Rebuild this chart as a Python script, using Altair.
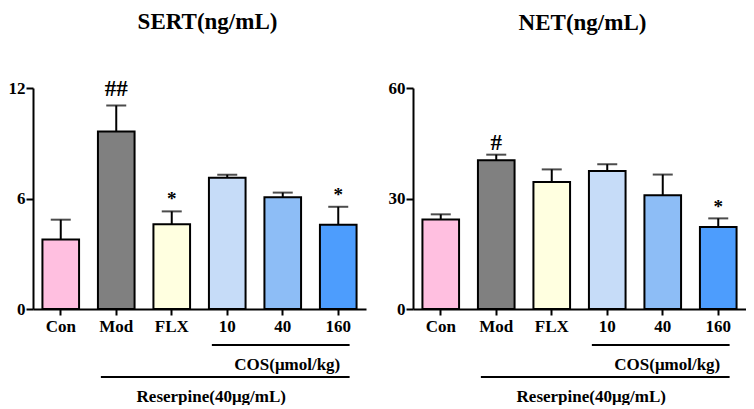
import altair as alt
import pandas as pd

cats = ["Con", "Mod", "FLX", "10", "40", "160"]
colors = ["#FFBFE0", "#808080", "#FFFFE0", "#C6DCF8", "#8DBDF6", "#4D9DFD"]

sert_mean = [3.78, 9.64, 4.60, 7.13, 6.07, 4.57]
sert_sem = [1.07, 1.41, 0.70, 0.16, 0.25, 0.98]
sert_hash = ["", "##", "", "", "", ""]
sert_star = ["", "", "*", "", "", "*"]

net_mean = [24.3, 40.4, 34.5, 37.5, 30.85, 22.25]
net_sem = [1.4, 1.5, 3.4, 1.8, 5.65, 2.35]
net_hash = ["", "#", "", "", "", ""]
net_star = ["", "", "", "", "", "*"]

FONT = "Liberation Serif"
W, H = 333, 221

ann_lines = pd.DataFrame({
    "start": ["10", "Mod"],
    "end": ["160", "160"],
    "ypix": [H + 36, H + 68],
})


def panel(title, mean, sem, hashes, stars, ymax, yticks, hash_dy, star_dy, title_dx):
    df = pd.DataFrame({
        "grp": cats,
        "mean": mean,
        "sem": sem,
        "hash": hashes,
        "star": stars,
    })
    df["top"] = df["mean"] + df["sem"]

    xscale = alt.Scale(domain=cats, paddingInner=0.34, paddingOuter=0.17)
    yscale = alt.Scale(domain=[0, ymax], nice=False, zero=True)

    def X(field, **kw):
        return alt.X(field, scale=xscale, sort=cats, title=None, **kw)

    def Y(field, **kw):
        return alt.Y(field, scale=yscale, title=None, **kw)

    base = alt.Chart(df)

    bars = base.mark_bar(stroke="black", strokeWidth=2).encode(
        x=X("grp:N",
            axis=alt.Axis(labelAngle=0, labelFont=FONT, labelFontWeight="bold",
                          labelFontSize=17, labelColor="black", domainColor="black",
                          domainWidth=2, tickColor="black", tickWidth=2, tickSize=6,
                          labelPadding=3)),
        y=Y("mean:Q",
            axis=alt.Axis(values=yticks, labelFont=FONT, labelFontWeight="bold",
                          labelFontSize=17, labelColor="black", domainColor="black",
                          domainWidth=2, tickColor="black", tickWidth=2, tickSize=7,
                          labelPadding=1, grid=False)),
        color=alt.Color("grp:N", scale=alt.Scale(domain=cats, range=colors), legend=None),
    )

    err = base.mark_rule(color="black", strokeWidth=2).encode(
        x=X("grp:N"),
        y=Y("mean:Q"),
        y2="top:Q",
    )
    cap = base.mark_tick(color="black", thickness=2, size=20).encode(
        x=X("grp:N"),
        y=Y("top:Q"),
    )

    hash_t = base.transform_filter(alt.datum.hash != "").mark_text(
        font=FONT, fontWeight="bold", fontSize=23, baseline="alphabetic", dy=hash_dy, color="black"
    ).encode(
        x=X("grp:N"),
        y=Y("top:Q"),
        text="hash:N",
    )
    star_t = base.transform_filter(alt.datum.star != "").mark_text(
        font=FONT, fontWeight="bold", fontSize=19, baseline="alphabetic", dy=star_dy, color="black"
    ).encode(
        x=X("grp:N"),
        y=Y("top:Q"),
        text="star:N",
    )

    lines = alt.Chart(ann_lines).mark_rule(color="black", strokeWidth=2).encode(
        x=X("start:N", bandPosition=0.08),
        x2=alt.X2("end:N", bandPosition=0.81),
        y=alt.Y("ypix:Q", scale=None, title=None),
    )

    cos_t = alt.Chart(pd.DataFrame({"pos": ["160"], "label": ["COS(μmol/kg)"]})).mark_text(
        font=FONT, fontWeight="bold", fontSize=17, align="right", baseline="middle", dx=2,
        color="black"
    ).encode(
        x=X("pos:N"),
        y=alt.value(H + 56),
        text="label:N",
    )
    res_t = alt.Chart(pd.DataFrame({"pos": ["10"], "label": ["Reserpine(40μg/mL)"]})).mark_text(
        font=FONT, fontWeight="bold", fontSize=17, align="center", baseline="middle", dx=-16,
        color="black"
    ).encode(
        x=X("pos:N"),
        y=alt.value(H + 88),
        text="label:N",
    )

    return alt.layer(bars, err, cap, hash_t, star_t, lines, cos_t, res_t).properties(
        width=W, height=H,
        title=alt.TitleParams(title, font=FONT, fontSize=23, fontWeight="bold",
                              color="black", anchor="middle", offset=44, dx=title_dx),
    )


left = panel("SERT(ng/mL)", sert_mean, sert_sem, sert_hash, sert_star, 12, [0, 6, 12], -9, -6, 8)
right = panel("NET(ng/mL)", net_mean, net_sem, net_hash, net_star, 60, [0, 30, 60], -5, -5, 3)

chart = alt.hconcat(left, right, spacing=22).properties(
    padding={"left": 0, "top": 3, "right": 0, "bottom": 0}
).configure_view(stroke=None).resolve_scale(x="independent", y="independent", color="independent")

chart.save("out.html", embed_options={"renderer": "svg", "actions": False})
